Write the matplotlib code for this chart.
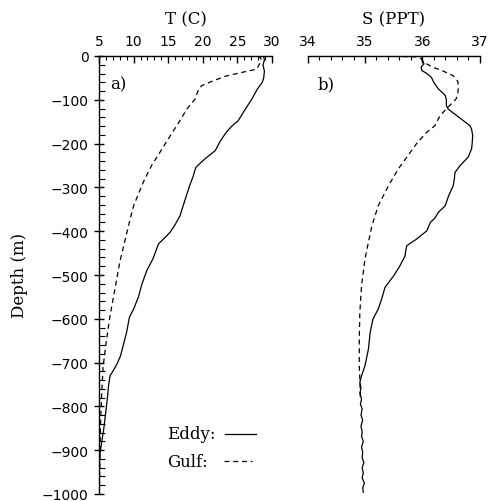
import matplotlib
matplotlib.use("Agg")
import matplotlib.pyplot as plt
from matplotlib.lines import Line2D
from matplotlib.ticker import MultipleLocator

# temperature profiles (depth in m, T in C)
EDDY_T_DEPTH = [0, -10, -20, -35, -50, -60, -75, -98, -120, -148, -160, -174,
                -195, -216, -235, -254, -275, -296, -330, -365, -385, -402,
                -415, -429, -463, -490, -521, -550, -578, -596, -630, -661,
                -685, -703, -720, -730, -750, -783, -850, -912, -950, -1000]
EDDY_T = [28.8, 28.9, 28.7, 28.9, 28.8, 28.6, 27.9, 27.1, 26.2, 25.1, 24.2, 23.4,
          22.5, 21.8, 20.3, 19.0, 18.6, 18.1, 17.4, 16.7, 16.0, 15.3,
          14.5, 13.6, 12.8, 11.9, 11.2, 10.7, 10.0, 9.4, 9.0, 8.5,
          8.1, 7.6, 7.0, 6.6, 6.4, 6.2, 5.7, 5.1, 5.05, 5.0]

GULF_T_DEPTH = [0, -5, -15, -30, -38, -46, -58, -68, -80, -98, -121, -150,
                -182, -220, -250, -288, -342, -372, -418, -471, -532, -593,
                -646, -708, -767, -850, -950, -1000]
GULF_T = [28.0, 28.4, 28.3, 27.8, 25.5, 23.3, 21.3, 19.8, 19.3, 18.9, 17.7, 16.6,
          15.3, 13.8, 12.6, 11.4, 10.0, 9.5, 8.8, 8.0, 7.3, 6.6,
          6.1, 5.6, 5.4, 5.2, 5.1, 5.05]

# salinity profiles (PPT)
EDDY_S_DEPTH = [0, -7, -18, -25, -33, -40, -49, -60, -75, -90, -100, -113,
                -121, -132, -148, -159, -167, -182, -200, -212, -231, -250,
                -266, -280, -296, -319, -342, -357, -370, -380, -399, -418,
                -433, -445, -456, -479, -502, -528, -555, -578, -600, -631,
                -669, -707, -730, -745, -758, -770, -783, -795, -806, -820,
                -831, -845, -858, -868, -880, -893, -905, -917, -928, -940,
                -952, -963, -975, -986, -996]
EDDY_S = [36.0, 35.99, 36.03, 35.98, 35.99, 36.08, 36.16, 36.2, 36.28, 36.40, 36.42, 36.42,
          36.45, 36.56, 36.72, 36.83, 36.86, 36.88, 36.87, 36.86, 36.80, 36.66,
          36.57, 36.56, 36.54, 36.46, 36.40, 36.28, 36.22, 36.14, 36.08, 35.90,
          35.73, 35.71, 35.70, 35.61, 35.50, 35.35, 35.29, 35.23, 35.14, 35.09,
          35.06, 35.00, 34.94, 34.91, 34.93, 34.91, 34.94, 34.92, 34.95, 34.93,
          34.96, 34.93, 34.95, 34.94, 34.97, 34.94, 34.96, 34.95, 34.98, 34.95,
          34.97, 34.95, 34.99, 34.96, 34.97]

GULF_S_DEPTH = [0, -2, -6, -10, -14, -26, -33, -45, -58, -71, -85, -98,
                -110, -121, -136, -159, -174, -200, -231, -258, -296, -342,
                -388, -425, -463, -524, -585, -646, -707, -737, -780]
GULF_S = [35.2, 35.9, 35.98, 36.0, 36.02, 36.19, 36.34, 36.54, 36.62, 36.63, 36.62, 36.59,
          36.50, 36.42, 36.31, 36.22, 36.08, 35.90, 35.73, 35.58, 35.41, 35.23,
          35.12, 35.06, 35.00, 34.94, 34.91, 34.90, 34.90, 34.91, 34.92]

W, H = 488, 502
LW = 0.9
DASH = (4, 3)

fig = plt.figure(figsize=(W / 100, H / 100), dpi=100)
ax_t = fig.add_axes([99 / W, 7 / H, 173 / W, 438 / H])
ax_s = fig.add_axes([307.7 / W, 7 / H, 171.9 / W, 438 / H])

ax_t.plot(EDDY_T, EDDY_T_DEPTH, color="black", lw=LW)
ax_t.plot(GULF_T, GULF_T_DEPTH, color="black", lw=LW, linestyle=(0, DASH))
ax_s.plot(EDDY_S, EDDY_S_DEPTH, color="black", lw=LW)
ax_s.plot(GULF_S, GULF_S_DEPTH, color="black", lw=LW, linestyle=(0, DASH))

for ax in (ax_t, ax_s):
    ax.set_ylim(-1000, 0)
    for side in ("right", "bottom"):
        ax.spines[side].set_visible(False)
    ax.spines["top"].set_linewidth(1.0)
    ax.xaxis.tick_top()
    ax.tick_params(axis="x", which="major", direction="in", length=5, width=1.0,
                   pad=6, labelsize=10)
    ax.tick_params(axis="x", which="minor", direction="in", length=3, width=0.8)
    ax.tick_params(axis="x", which="both", bottom=False)

ax_t.set_xlim(5, 30)
ax_t.xaxis.set_major_locator(MultipleLocator(5))
ax_t.xaxis.set_minor_locator(MultipleLocator(1))
ax_t.yaxis.set_major_locator(MultipleLocator(100))
ax_t.yaxis.set_minor_locator(MultipleLocator(20))
ax_t.spines["left"].set_linewidth(1.0)
ax_t.tick_params(axis="y", which="major", direction="inout", length=7, width=1.0,
                 pad=4, labelsize=10, right=False)
ax_t.tick_params(axis="y", which="minor", direction="in", length=4, width=0.8, right=False)

ax_s.set_xlim(34, 37)
ax_s.xaxis.set_major_locator(MultipleLocator(1))
ax_s.xaxis.set_minor_locator(MultipleLocator(0.2))
ax_s.spines["left"].set_visible(False)
ax_s.set_yticks([])

serif = "DejaVu Serif"
ax_t.text(0.5, 1.0845, "T (C)", transform=ax_t.transAxes, ha="center", va="center",
          fontsize=12, family=serif)
ax_s.text(0.5, 1.0845, "S (PPT)", transform=ax_s.transAxes, ha="center", va="center",
          fontsize=12, family=serif)
ax_t.text(0.064, 0.936, "a)", transform=ax_t.transAxes, ha="left", va="center",
          fontsize=12, family=serif)
ax_s.text(0.06, 0.936, "b)", transform=ax_s.transAxes, ha="left", va="center",
          fontsize=12, family=serif)
fig.text(20 / W, 1 - 275 / H, "Depth (m)", rotation=90, ha="center", va="center",
         fontsize=12, family=serif)

# legend drawn by hand
fig.text(167 / W, 1 - 435 / H, "Eddy:", ha="left", va="center", fontsize=12, family=serif)
fig.text(167 / W, 1 - 463 / H, "Gulf:", ha="left", va="center", fontsize=12, family=serif)
fig.add_artist(Line2D([225 / W, 256 / W], [1 - 435 / H] * 2, color="black", lw=LW))
fig.add_artist(Line2D([224 / W, 252 / W], [1 - 462 / H] * 2, color="black", lw=LW,
                      linestyle=(0, DASH)))

fig.savefig("out.png", dpi=100)
